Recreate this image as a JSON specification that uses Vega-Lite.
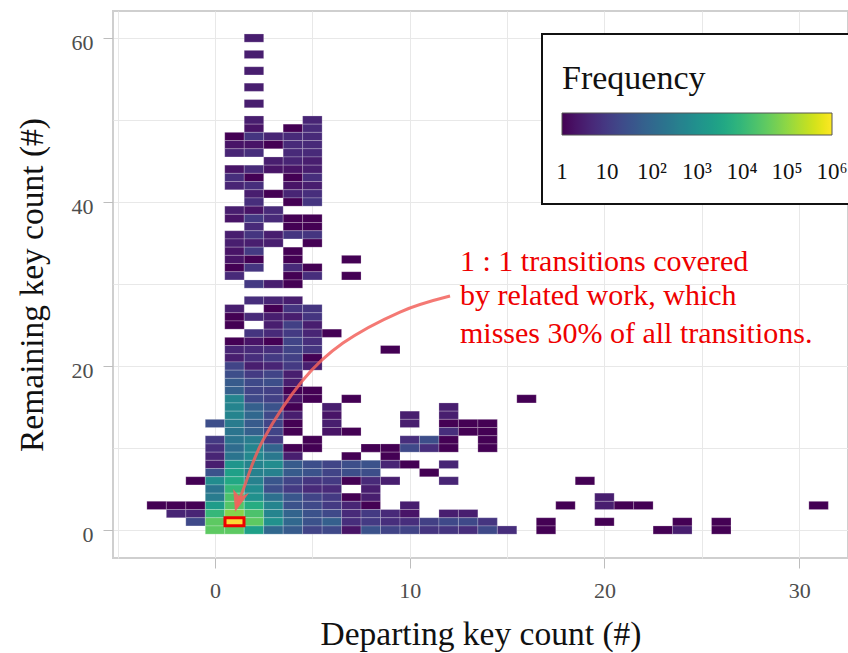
{"$schema":"https://vega.github.io/schema/vega-lite/v6.json","width":735,"height":547,"autosize":{"type":"none"},"padding":{"left":113,"top":11,"right":0,"bottom":95},"background":"white","view":{"stroke":"#cfcfcf","strokeWidth":2},"config":{"font":"Liberation Serif","legend":{"strokeWidth":2}},"datasets":{"cells":[
{"x":2,"y":60,"n":3},{"x":2,"y":58,"n":3},{"x":2,"y":56,"n":3},{"x":2,"y":54,"n":3},{"x":2,"y":52,"n":3},
{"x":2,"y":50,"n":3},{"x":5,"y":50,"n":4},
{"x":2,"y":49,"n":2},{"x":4,"y":49,"n":1},{"x":5,"y":49,"n":5},
{"x":1,"y":48,"n":1},{"x":2,"y":48,"n":8},{"x":3,"y":48,"n":4},{"x":4,"y":48,"n":5},{"x":5,"y":48,"n":5},
{"x":1,"y":47,"n":2},{"x":2,"y":47,"n":2},{"x":3,"y":47,"n":1},{"x":4,"y":47,"n":5},{"x":5,"y":47,"n":5},
{"x":1,"y":46,"n":4},{"x":2,"y":46,"n":6},{"x":4,"y":46,"n":5},{"x":5,"y":46,"n":5},
{"x":3,"y":45,"n":3},{"x":4,"y":45,"n":4},{"x":5,"y":45,"n":3},
{"x":1,"y":44,"n":2},{"x":2,"y":44,"n":5},{"x":3,"y":44,"n":2},{"x":4,"y":44,"n":2},{"x":5,"y":44,"n":3},
{"x":1,"y":43,"n":6},{"x":2,"y":43,"n":1},{"x":4,"y":43,"n":1},{"x":5,"y":43,"n":6},
{"x":1,"y":42,"n":4},{"x":2,"y":42,"n":6},{"x":4,"y":42,"n":2},{"x":5,"y":42,"n":3},
{"x":2,"y":41,"n":3},{"x":3,"y":41,"n":1},{"x":4,"y":41,"n":4},{"x":5,"y":41,"n":6},
{"x":2,"y":40,"n":6},{"x":4,"y":40,"n":1},{"x":5,"y":40,"n":8},
{"x":1,"y":39,"n":3},{"x":2,"y":39,"n":2},{"x":3,"y":39,"n":5},
{"x":1,"y":38,"n":2},{"x":2,"y":38,"n":10},{"x":3,"y":38,"n":5},{"x":4,"y":38,"n":1},{"x":5,"y":38,"n":1},
{"x":2,"y":37,"n":5},{"x":4,"y":37,"n":1},{"x":5,"y":37,"n":1},
{"x":1,"y":36,"n":3},{"x":2,"y":36,"n":8},{"x":3,"y":36,"n":3},{"x":4,"y":36,"n":8},{"x":5,"y":36,"n":8},
{"x":1,"y":35,"n":3},{"x":2,"y":35,"n":3},{"x":3,"y":35,"n":3},{"x":5,"y":35,"n":1},
{"x":1,"y":34,"n":2},{"x":2,"y":34,"n":10},{"x":4,"y":34,"n":1},
{"x":1,"y":33,"n":2},{"x":2,"y":33,"n":1},{"x":4,"y":33,"n":1},{"x":7,"y":33,"n":1},
{"x":1,"y":32,"n":1},{"x":2,"y":32,"n":8},{"x":4,"y":32,"n":5},{"x":5,"y":32,"n":1},
{"x":1,"y":31,"n":5},{"x":4,"y":31,"n":1},{"x":5,"y":31,"n":6},{"x":7,"y":31,"n":1},
{"x":2,"y":30,"n":10},{"x":3,"y":30,"n":3},{"x":4,"y":30,"n":1},
{"x":2,"y":28,"n":6},{"x":3,"y":28,"n":4},{"x":4,"y":28,"n":3},
{"x":1,"y":27,"n":3},{"x":3,"y":27,"n":1},{"x":4,"y":27,"n":8},{"x":5,"y":27,"n":8},
{"x":1,"y":26,"n":1},{"x":2,"y":26,"n":5},{"x":3,"y":26,"n":3},{"x":4,"y":26,"n":3},{"x":5,"y":26,"n":8},
{"x":1,"y":25,"n":1},{"x":3,"y":25,"n":3},{"x":4,"y":25,"n":13},{"x":5,"y":25,"n":3},
{"x":2,"y":24,"n":8},{"x":3,"y":24,"n":5},{"x":4,"y":24,"n":10},{"x":5,"y":24,"n":4},{"x":6,"y":24,"n":1},
{"x":1,"y":23,"n":1},{"x":2,"y":23,"n":2},{"x":3,"y":23,"n":1},{"x":4,"y":23,"n":16},{"x":5,"y":23,"n":6},
{"x":1,"y":22,"n":4},{"x":2,"y":22,"n":5},{"x":3,"y":22,"n":6},{"x":4,"y":22,"n":16},{"x":5,"y":22,"n":8},{"x":9,"y":22,"n":1},
{"x":1,"y":21,"n":3},{"x":2,"y":21,"n":6},{"x":3,"y":21,"n":10},{"x":4,"y":21,"n":13},{"x":5,"y":21,"n":1},
{"x":1,"y":20,"n":16},{"x":2,"y":20,"n":3},{"x":3,"y":20,"n":4},{"x":4,"y":20,"n":10},{"x":5,"y":20,"n":3},
{"x":1,"y":19,"n":25},{"x":2,"y":19,"n":10},{"x":3,"y":19,"n":16},{"x":4,"y":19,"n":3},
{"x":1,"y":18,"n":50},{"x":2,"y":18,"n":20},{"x":3,"y":18,"n":25},{"x":4,"y":18,"n":3},
{"x":1,"y":17,"n":63},{"x":2,"y":17,"n":16},{"x":3,"y":17,"n":13},{"x":4,"y":17,"n":1},{"x":5,"y":17,"n":1},
{"x":1,"y":16,"n":500},{"x":2,"y":16,"n":20},{"x":3,"y":16,"n":13},{"x":4,"y":16,"n":2},{"x":5,"y":16,"n":1},{"x":7,"y":16,"n":1},{"x":16,"y":16,"n":1},
{"x":1,"y":15,"n":500},{"x":2,"y":15,"n":63},{"x":3,"y":15,"n":32},{"x":4,"y":15,"n":1},{"x":6,"y":15,"n":3},{"x":12,"y":15,"n":3},
{"x":1,"y":14,"n":500},{"x":2,"y":14,"n":100},{"x":3,"y":14,"n":20},{"x":4,"y":14,"n":3},{"x":6,"y":14,"n":2},{"x":10,"y":14,"n":3},{"x":12,"y":14,"n":3},
{"x":0,"y":13,"n":25},{"x":1,"y":13,"n":316},{"x":2,"y":13,"n":50},{"x":3,"y":13,"n":16},{"x":4,"y":13,"n":1},{"x":6,"y":13,"n":3},{"x":10,"y":13,"n":3},{"x":12,"y":13,"n":1},{"x":13,"y":13,"n":1},{"x":14,"y":13,"n":1},
{"x":1,"y":12,"n":200},{"x":2,"y":12,"n":63},{"x":3,"y":12,"n":16},{"x":4,"y":12,"n":1},{"x":6,"y":12,"n":2},{"x":7,"y":12,"n":1},{"x":12,"y":12,"n":6},{"x":13,"y":12,"n":1},{"x":14,"y":12,"n":1},
{"x":0,"y":11,"n":10},{"x":1,"y":11,"n":200},{"x":2,"y":11,"n":316},{"x":3,"y":11,"n":10},{"x":5,"y":11,"n":1},{"x":10,"y":11,"n":6},{"x":11,"y":11,"n":25},{"x":12,"y":11,"n":1},{"x":14,"y":11,"n":1},
{"x":0,"y":10,"n":6},{"x":1,"y":10,"n":126},{"x":2,"y":10,"n":501},{"x":3,"y":10,"n":79},{"x":4,"y":10,"n":1},{"x":5,"y":10,"n":1},{"x":8,"y":10,"n":1},{"x":9,"y":10,"n":1},{"x":10,"y":10,"n":20},{"x":11,"y":10,"n":6},{"x":12,"y":10,"n":1},{"x":14,"y":10,"n":1},
{"x":0,"y":9,"n":4},{"x":1,"y":9,"n":200},{"x":2,"y":9,"n":631},{"x":3,"y":9,"n":251},{"x":4,"y":9,"n":3},{"x":7,"y":9,"n":1},{"x":9,"y":9,"n":1},
{"x":0,"y":8,"n":3},{"x":1,"y":8,"n":1259},{"x":2,"y":8,"n":501},{"x":3,"y":8,"n":794},{"x":4,"y":8,"n":50},{"x":5,"y":8,"n":25},{"x":6,"y":8,"n":16},{"x":7,"y":8,"n":25},{"x":8,"y":8,"n":32},{"x":9,"y":8,"n":4},{"x":10,"y":8,"n":1},{"x":12,"y":8,"n":4},
{"x":0,"y":7,"n":32},{"x":1,"y":7,"n":2512},{"x":2,"y":7,"n":398},{"x":3,"y":7,"n":398},{"x":4,"y":7,"n":50},{"x":5,"y":7,"n":32},{"x":6,"y":7,"n":16},{"x":7,"y":7,"n":25},{"x":8,"y":7,"n":25},{"x":11,"y":7,"n":1},
{"x":-1,"y":6,"n":1},{"x":0,"y":6,"n":794},{"x":1,"y":6,"n":4000},{"x":2,"y":6,"n":398},{"x":3,"y":6,"n":40},{"x":4,"y":6,"n":16},{"x":5,"y":6,"n":8},{"x":6,"y":6,"n":10},{"x":7,"y":6,"n":1},{"x":8,"y":6,"n":5},{"x":9,"y":6,"n":3},{"x":12,"y":6,"n":4},{"x":19,"y":6,"n":1},
{"x":0,"y":5,"n":200},{"x":1,"y":5,"n":10000},{"x":2,"y":5,"n":794},{"x":3,"y":5,"n":25},{"x":4,"y":5,"n":10},{"x":5,"y":5,"n":5},{"x":6,"y":5,"n":5},{"x":8,"y":5,"n":3},
{"x":0,"y":4,"n":316},{"x":1,"y":4,"n":19953},{"x":2,"y":4,"n":1000},{"x":3,"y":4,"n":158},{"x":4,"y":4,"n":40},{"x":5,"y":4,"n":16},{"x":6,"y":4,"n":10},{"x":7,"y":4,"n":1},{"x":8,"y":4,"n":3},{"x":20,"y":4,"n":3},
{"x":-3,"y":3,"n":1},{"x":-2,"y":3,"n":1},{"x":-1,"y":3,"n":1},{"x":0,"y":3,"n":2000},{"x":1,"y":3,"n":25119},{"x":2,"y":3,"n":5012},{"x":3,"y":3,"n":501},{"x":4,"y":3,"n":32},{"x":5,"y":3,"n":20},{"x":6,"y":3,"n":10},{"x":7,"y":3,"n":4},{"x":8,"y":3,"n":1},{"x":10,"y":3,"n":3},{"x":18,"y":3,"n":1},{"x":20,"y":3,"n":3},{"x":21,"y":3,"n":1},{"x":22,"y":3,"n":1},{"x":31,"y":3,"n":1},
{"x":-2,"y":2,"n":4},{"x":-1,"y":2,"n":4},{"x":0,"y":2,"n":10000},{"x":1,"y":2,"n":79433},{"x":2,"y":2,"n":19953},{"x":3,"y":2,"n":501},{"x":4,"y":2,"n":79},{"x":5,"y":2,"n":32},{"x":6,"y":2,"n":20},{"x":7,"y":2,"n":5},{"x":8,"y":2,"n":10},{"x":9,"y":2,"n":5},{"x":10,"y":2,"n":2},{"x":12,"y":2,"n":3},{"x":13,"y":2,"n":3},
{"x":-1,"y":1,"n":20},{"x":0,"y":1,"n":31623},{"x":2,"y":1,"n":31623},{"x":3,"y":1,"n":1000},{"x":4,"y":1,"n":100},{"x":5,"y":1,"n":32},{"x":6,"y":1,"n":63},{"x":7,"y":1,"n":6},{"x":8,"y":1,"n":10},{"x":9,"y":1,"n":6},{"x":10,"y":1,"n":6},{"x":11,"y":1,"n":13},{"x":12,"y":1,"n":20},{"x":13,"y":1,"n":20},{"x":14,"y":1,"n":8},{"x":17,"y":1,"n":1},{"x":20,"y":1,"n":1},{"x":24,"y":1,"n":1},{"x":26,"y":1,"n":1},
{"x":0,"y":0,"n":31623},{"x":1,"y":0,"n":31623},{"x":2,"y":0,"n":2512},{"x":3,"y":0,"n":100},{"x":4,"y":0,"n":50},{"x":5,"y":0,"n":16},{"x":6,"y":0,"n":20},{"x":7,"y":0,"n":2},{"x":8,"y":0,"n":32},{"x":9,"y":0,"n":16},{"x":10,"y":0,"n":16},{"x":11,"y":0,"n":8},{"x":12,"y":0,"n":8},{"x":13,"y":0,"n":6},{"x":14,"y":0,"n":20},{"x":15,"y":0,"n":6},{"x":17,"y":0,"n":1},{"x":23,"y":0,"n":1},{"x":24,"y":0,"n":3},{"x":26,"y":0,"n":1}
],"notes":[{"x":12.58,"y":32.7,"t":"1 : 1 transitions covered"},{"x":12.58,"y":28.6,"t":"by related work, which"},{"x":12.58,"y":23.9,"t":"misses 30% of all transitions."}],
"arrow":[{"o":1,"x":12.07,"y":28.54},{"o":2,"x":9.5,"y":26.59},{"o":3,"x":6.57,"y":22.8},{"o":4,"x":4.52,"y":18.29},{"o":5,"x":2.47,"y":10.98},{"o":6,"x":1.44,"y":4.88},{"o":7,"x":1.08,"y":2.68}]},
"encoding":{"x":{"field":"x","type":"quantitative","scale":{"domain":[-5.24,32.51],"nice":false,"zero":false},"axis":{"values":[-5,0,5,10,15,20,25,30],"labelExpr":"datum.value % 10 === 0 ? datum.label : ''","title":"Departing key count (#)","titleFont":"Liberation Serif","titleFontSize":33.5,"titleFontWeight":"normal","titleColor":"#111111","titlePadding":17,"labelFont":"Liberation Serif","labelFontSize":22,"labelColor":"#4d4d4d","labelPadding":12,"tickSize":10,"tickColor":"#bdbdbd","tickOpacity":{"condition":{"test":"datum.value % 10 === 0","value":1},"value":0},"domain":false,"gridColor":"#e8e8e8","gridWidth":1,"labelOverlap":false}},
"y":{"field":"y","type":"quantitative","scale":{"domain":[-3.41,63.3],"nice":false,"zero":false},"axis":{"values":[0,10,20,30,40,50,60],"labelExpr":"datum.value % 20 === 0 ? datum.label : ''","title":"Remaining key count (#)","titleFont":"Liberation Serif","titleFontSize":33.5,"titleFontWeight":"normal","titleColor":"#111111","titlePadding":22,"labelFont":"Liberation Serif","labelFontSize":22,"labelColor":"#4d4d4d","labelPadding":10,"labelOffset":4,"tickSize":10,"tickColor":"#bdbdbd","tickOpacity":{"condition":{"test":"datum.value % 20 === 0","value":1},"value":0},"domain":false,"gridColor":"#e8e8e8","gridWidth":1,"labelOverlap":false}}},
"layer":[
{"data":{"name":"cells"},"mark":{"type":"rect","width":19.47,"height":8.2,"stroke":"#ffffff","strokeWidth":0.6,"strokeOpacity":0.35},"encoding":{"color":{"field":"n","type":"quantitative","scale":{"type":"log","scheme":"viridis","domain":[1,1000000]},"legend":{"orient":"none","legendX":429,"legendY":23,"direction":"horizontal","title":["","Frequency"],"titleLineHeight":8,"titleFont":"Liberation Serif","titleFontSize":34,"titleFontWeight":"normal","titleColor":"#111111","titlePadding":17,"values":[1,10,100,1000,10000,100000,1000000],"labelExpr":"{'1':'1','10':'10','100':'10²','1000':'10³','10000':'10⁴','100000':'10⁵','1000000':'10⁶'}[datum.value]","labelFont":"Liberation Serif","labelFontSize":23,"labelColor":"#111111","labelOverlap":false,"labelOffset":26,"gradientLength":270,"gradientThickness":22,"gradientStrokeColor":"#555555","gradientStrokeWidth":1,"fillColor":"white","strokeColor":"#111111","padding":20,"encoding":{"labels":{"align":{"value":"center"}}}}}}},
{"data":{"values":[{"x":1,"y":1}]},"mark":{"type":"rect","width":19,"height":8,"fill":"#fdd835","stroke":"#ee0000","strokeWidth":3}},
{"data":{"name":"arrow"},"mark":{"type":"line","interpolate":"cardinal","stroke":"#f2625c","strokeOpacity":0.85,"strokeWidth":3},"encoding":{"order":{"field":"o","type":"ordinal"}}},
{"data":{"values":[{"x":1.03,"y":2.2}]},"mark":{"type":"point","shape":"M0,0 L-0.08,-0.96 L0.2,-0.62 L0.58,-0.79 Z","size":2304,"filled":true,"fill":"#f2625c","opacity":0.9,"strokeWidth":0}},
{"data":{"name":"notes"},"mark":{"type":"text","align":"left","baseline":"middle","font":"Liberation Serif","fontSize":30,"color":"#ee0000"},"encoding":{"text":{"field":"t"}}}
]}
